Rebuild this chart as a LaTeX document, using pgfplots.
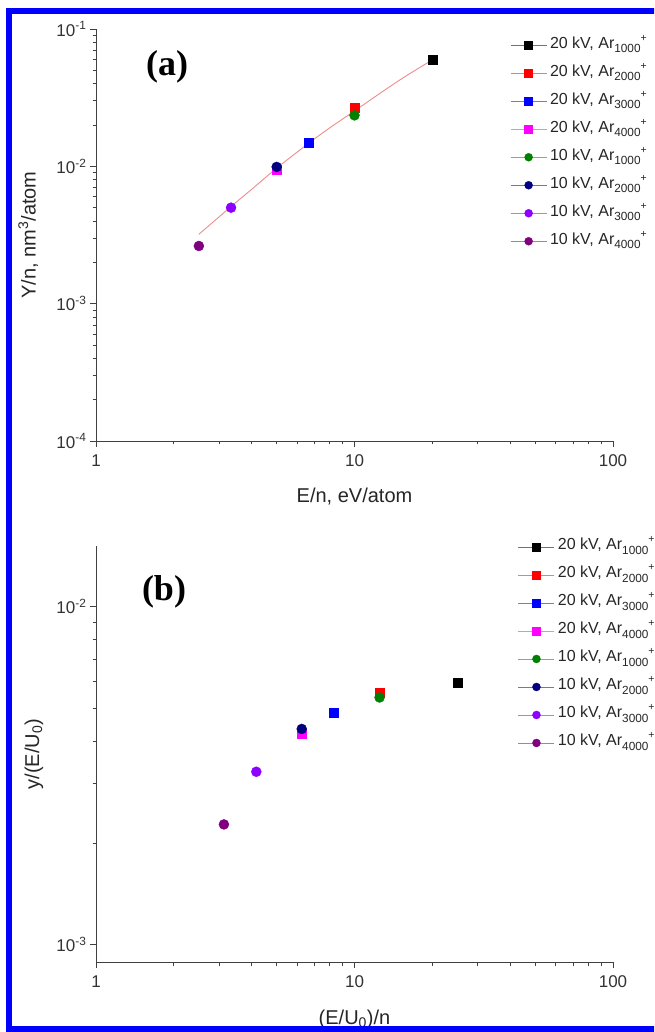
\documentclass[border=0pt]{standalone}
\usepackage{fontspec}
\setmainfont{Liberation Sans}
\newfontfamily\serifbf{Liberation Serif}
\usepackage{pgfplots}
\pgfplotsset{compat=1.18}

\definecolor{cblack}{RGB}{0,0,0}
\definecolor{cred}{RGB}{255,0,0}
\definecolor{cblue}{RGB}{0,0,255}
\definecolor{cmag}{RGB}{255,0,255}
\definecolor{cgreen}{RGB}{0,128,0}
\definecolor{cnavy}{RGB}{0,0,128}
\definecolor{cviolet}{RGB}{140,0,255}
\definecolor{cpurple}{RGB}{128,0,128}
\definecolor{fitc}{RGB}{240,140,140}
\definecolor{frameblue}{RGB}{0,0,255}

\newcommand\ar[1]{Ar\raisebox{-0.5ex}{\fontsize{11.8}{11.8}\selectfont #1}\raisebox{0.85ex}{\fontsize{10.5}{10.5}\selectfont +}}

\pgfplotsset{
  every axis/.append style={
  scale only axis, width=517pt,
  xmin=1, xmax=100,
  axis x line*=bottom, axis y line*=left,
  tick align=outside, major tick length=6pt, minor tick length=3.5pt,
  every tick/.style={line width=0.8pt, black!75},
  axis line style={line width=0.9pt, black!75},
  xtick={1,10,100}, xticklabels={1,10,100},
  minor xtick={2,3,4,5,6,7,8,9,20,30,40,50,60,70,80,90},
  tick label style={font=\fontsize{17}{17}\selectfont, black!80},
  xticklabel style={yshift=-4pt},
  label style={font=\fontsize{20}{20}\selectfont, black!85},
  legend cell align=left,
  legend style={draw=none, fill=none, inner sep=0pt, anchor=north west,
    font=\fontsize{16}{16}\selectfont, text=black!85,
    row sep=14pt, column sep=0pt,
    nodes={inner xsep=3pt, inner ysep=0pt, text height=10pt, text depth=4pt}},
  clip=false,
 },
  legend image code/.code={%
    \draw[#1,mark=none,draw opacity=0.55,line width=0.8pt] (0pt,0pt) -- (36pt,0pt);
    \draw[#1,only marks,mark size=4pt] plot coordinates {(18pt,0pt)};},
}

\begin{document}
\begin{tikzpicture}[x=1pt,y=1pt]
\useasboundingbox (0,0) rectangle (654,1032);
\clip (0,0) rectangle (654,1032);
\fill[white] (0,0) rectangle (654,1032);

% ---------- panel (a) ----------
\begin{loglogaxis}[
  at={(96pt,591pt)}, anchor=south west, height=412pt,
  ymin=1e-4, ymax=1e-1,
  ytick={1e-4,1e-3,1e-2,1e-1},
  yticklabels={10\textsuperscript{-4},10\textsuperscript{-3},10\textsuperscript{-2},10\textsuperscript{-1}},
  minor ytick={2e-4,3e-4,4e-4,5e-4,6e-4,7e-4,8e-4,9e-4,2e-3,3e-3,4e-3,5e-3,6e-3,7e-3,8e-3,9e-3,2e-2,3e-2,4e-2,5e-2,6e-2,7e-2,8e-2,9e-2},
  xlabel={E/n, eV/atom}, ylabel={Y/n, nm\textsuperscript{3}/atom},
  xlabel style={at={(axis description cs:0.5,-0.134)}, anchor=center},
  ylabel style={at={(axis description cs:-0.131,0.5)}, anchor=center},
  legend style={at={(axis description cs:0.8008,0.978)}},
]
\addplot[fitc, line width=0.9pt, smooth, forget plot] coordinates {
 (2.5,0.0032) (3,0.0043) (3.33,0.0051) (4,0.0068) (5,0.0097) (6.67,0.0148)
 (8,0.019) (10,0.0253) (13,0.0356) (16,0.0461) (20,0.0595)};
\addplot[mark=square*, mark size=4.5pt, color=cblack] coordinates {(20,0.0595)};
\addlegendentry{20 kV, \ar{1000}}
\addplot[mark=square*, mark size=4.5pt, color=cred] coordinates {(10,0.0265)};
\addlegendentry{20 kV, \ar{2000}}
\addplot[mark=square*, mark size=4.5pt, color=cblue] coordinates {(6.67,0.0148)};
\addlegendentry{20 kV, \ar{3000}}
\addplot[mark=square*, mark size=4.5pt, color=cmag] coordinates {(5,0.0095)};
\addlegendentry{20 kV, \ar{4000}}
\addplot[mark=*, mark size=5pt, color=cgreen] coordinates {(10,0.0235)};
\addlegendentry{10 kV, \ar{1000}}
\addplot[mark=*, mark size=5pt, color=cnavy] coordinates {(5,0.0099)};
\addlegendentry{10 kV, \ar{2000}}
\addplot[mark=*, mark size=5pt, color=cviolet] coordinates {(3.33,0.0050)};
\addlegendentry{10 kV, \ar{3000}}
\addplot[mark=*, mark size=5pt, color=cpurple] coordinates {(2.5,0.00263)};
\addlegendentry{10 kV, \ar{4000}}
\end{loglogaxis}

% ---------- panel (b) ----------
\begin{loglogaxis}[
  at={(96pt,70pt)}, anchor=south west, height=416pt,
  ymin=8.89e-4, ymax=0.01513,
  ytick={1e-3,1e-2},
  yticklabels={10\textsuperscript{-3},10\textsuperscript{-2}},
  minor ytick={2e-3,3e-3,4e-3,5e-3,6e-3,7e-3,8e-3,9e-3},
  xlabel={(E/U\textsubscript{0})/n}, ylabel={y/(E/U\textsubscript{0})},
  xlabel style={at={(axis description cs:0.5,-0.137)}, anchor=center},
  ylabel style={at={(axis description cs:-0.12,0.5)}, anchor=center},
  legend style={at={(axis description cs:0.816,1.015)}},
]
\addplot[mark=square*, mark size=4.5pt, color=cblack] coordinates {(25,0.00597)};
\addlegendentry{20 kV, \ar{1000}}
\addplot[mark=square*, mark size=4.5pt, color=cred] coordinates {(12.5,0.00558)};
\addlegendentry{20 kV, \ar{2000}}
\addplot[mark=square*, mark size=4.5pt, color=cblue] coordinates {(8.33,0.00487)};
\addlegendentry{20 kV, \ar{3000}}
\addplot[mark=square*, mark size=4.5pt, color=cmag] coordinates {(6.25,0.00420)};
\addlegendentry{20 kV, \ar{4000}}
\addplot[mark=*, mark size=5pt, color=cgreen] coordinates {(12.5,0.00539)};
\addlegendentry{10 kV, \ar{1000}}
\addplot[mark=*, mark size=5pt, color=cnavy] coordinates {(6.25,0.00435)};
\addlegendentry{10 kV, \ar{2000}}
\addplot[mark=*, mark size=5pt, color=cviolet] coordinates {(4.17,0.00325)};
\addlegendentry{10 kV, \ar{3000}}
\addplot[mark=*, mark size=5pt, color=cpurple] coordinates {(3.125,0.00227)};
\addlegendentry{10 kV, \ar{4000}}
\end{loglogaxis}

\node[font=\serifbf\bfseries\fontsize{36}{36}\selectfont] at (167,965) {(a)};
\node[font=\serifbf\bfseries\fontsize{36}{36}\selectfont] at (164,440) {(b)};

\draw[frameblue, line width=6pt] (9,3) rectangle (690,1021);
\end{tikzpicture}
\end{document}
